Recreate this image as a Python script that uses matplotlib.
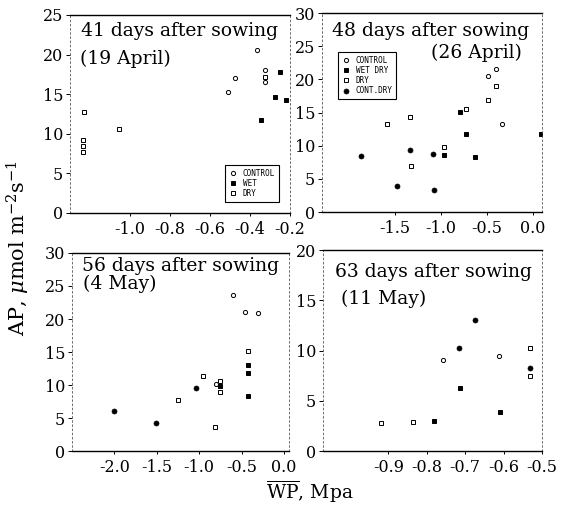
import matplotlib
matplotlib.use('Agg')
import matplotlib.pyplot as plt

plt.rcParams['font.family'] = ['DejaVu Serif']
plt.rcParams['mathtext.fontset'] = 'dejavuserif'

# 41 days after sowing (19 April)
ctrl1_x = [-0.367, -0.475, -0.509, -0.325, -0.325]
ctrl1_y = [20.6, 17.0, 15.3, 18.1, 16.5]
wet1_x = [-0.25, -0.275, -0.22, -0.345]
wet1_y = [17.8, 14.7, 14.3, 11.8]
dry1_x = [-1.23, -1.054, -1.235, -1.235, -1.235, -0.325]
dry1_y = [12.7, 10.6, 9.2, 8.4, 7.7, 17.2]

# 48 days after sowing (26 April)
ctrl2_x = [-0.336, -0.486, -0.398]
ctrl2_y = [13.3, 20.5, 21.6]
wet2_x = [-0.965, -0.799, -0.725, -0.627, 0.087]
wet2_y = [8.55, 15.1, 11.7, 8.3, 11.8]
dry2_x = [-1.587, -1.336, -1.325, -0.965, -0.725, -0.398, -0.486]
dry2_y = [13.2, 14.3, 7.0, 9.8, 15.6, 19.0, 16.9]
cd2_x = [-1.876, -1.336, -1.085, -1.483, -1.082]
cd2_y = [8.4, 9.4, 8.8, 3.9, 3.3]

# 56 days after sowing (4 May)
ctrl3_x = [-0.802, -0.599, -0.461, -0.305]
ctrl3_y = [10.2, 23.7, 21.1, 20.9]
wet3_x = [-0.755, -0.422, -0.422, -0.422]
wet3_y = [9.8, 13.0, 11.8, 8.4]
dry3_x = [-1.246, -0.959, -0.811, -0.755, -0.755, -0.422]
dry3_y = [7.8, 11.3, 3.7, 10.6, 9.0, 15.1]
cd3_x = [-2.00, -1.508, -1.038]
cd3_y = [6.1, 4.3, 9.5]

# 63 days after sowing (11 May)
ctrl4_x = [-0.758, -0.611]
ctrl4_y = [9.1, 9.45]
wet4_x = [-0.713, -0.609, -0.781]
wet4_y = [6.3, 3.9, 3.0]
dry4_x = [-0.532, -0.532, -0.837, -0.918]
dry4_y = [10.3, 7.5, 2.9, 2.8]
cd4_x = [-0.674, -0.715, -0.532]
cd4_y = [13.0, 10.3, 8.3]

xticks1 = [-1.0, -0.8, -0.6, -0.4, -0.2]
xticks2 = [-1.5, -1.0, -0.5, 0.0]
xticks3 = [-2.0, -1.5, -1.0, -0.5, 0.0]
xticks4 = [-0.9, -0.8, -0.7, -0.6, -0.5]

fig = plt.figure(figsize=(5.72, 5.11), dpi=100)
ax1 = fig.add_axes([0.1224, 0.5832, 0.3846, 0.3875])
ax2 = fig.add_axes([0.5629, 0.5851, 0.3846, 0.3894])
ax3 = fig.add_axes([0.1259, 0.1174, 0.3794, 0.3875])
ax4 = fig.add_axes([0.5647, 0.1174, 0.3829, 0.3933])

ctrl_kw = dict(ls='none', marker='o', ms=3.0, mfc='white', mec='black', mew=0.7)
wet_kw = dict(ls='none', marker='s', ms=3.2, mfc='black', mec='black', mew=0.7)
dry_kw = dict(ls='none', marker='s', ms=3.0, mfc='white', mec='black', mew=0.7)
cd_kw = dict(ls='none', marker='o', ms=3.6, mfc='black', mec='black', mew=0.5)

ax1.plot(ctrl1_x, ctrl1_y, label='CONTROL', **ctrl_kw)
ax1.plot(wet1_x, wet1_y, label='WET', **wet_kw)
ax1.plot(dry1_x, dry1_y, label='DRY', **dry_kw)

ax2.plot(ctrl2_x, ctrl2_y, label='CONTROL', **ctrl_kw)
ax2.plot(wet2_x, wet2_y, label='WET DRY', **wet_kw)
ax2.plot(dry2_x, dry2_y, label='DRY', **dry_kw)
ax2.plot(cd2_x, cd2_y, label='CONT.DRY', **cd_kw)

ax3.plot(ctrl3_x, ctrl3_y, **ctrl_kw)
ax3.plot(wet3_x, wet3_y, **wet_kw)
ax3.plot(dry3_x, dry3_y, **dry_kw)
ax3.plot(cd3_x, cd3_y, **cd_kw)

ax4.plot(ctrl4_x, ctrl4_y, **ctrl_kw)
ax4.plot(wet4_x, wet4_y, **wet_kw)
ax4.plot(dry4_x, dry4_y, **dry_kw)
ax4.plot(cd4_x, cd4_y, **cd_kw)

ax1.set_xlim(-1.3, -0.2); ax1.set_ylim(0, 25)
ax2.set_xlim(-2.3, 0.1); ax2.set_ylim(0, 30)
ax3.set_xlim(-2.5, 0.06); ax3.set_ylim(0, 30)
ax4.set_xlim(-1.07, -0.5); ax4.set_ylim(0, 20)

ax1.set_xticks(xticks1); ax1.set_xticklabels(['%.1f' % v for v in xticks1])
ax2.set_xticks(xticks2); ax2.set_xticklabels(['%.1f' % v for v in xticks2])
ax3.set_xticks(xticks3); ax3.set_xticklabels(['%.1f' % v for v in xticks3])
ax4.set_xticks(xticks4); ax4.set_xticklabels(['%.1f' % v for v in xticks4])
ax1.set_yticks(range(0, 26, 5))
ax2.set_yticks(range(0, 31, 5))
ax3.set_yticks(range(0, 31, 5))
ax4.set_yticks(range(0, 21, 5))

for ax in [ax1, ax2, ax3, ax4]:
    ax.tick_params(labelsize=11.5, direction='out', length=3, width=0.7, pad=2)
    ax.tick_params(axis='x', length=2, pad=4)
    ax.spines['top'].set_linewidth(1.0)
    ax.spines['bottom'].set_linewidth(1.0)
    for s in ['left', 'right']:
        ax.spines[s].set_linestyle((0, (2, 3)))
        ax.spines[s].set_linewidth(0.6)
        ax.spines[s].set_color('#555555')

ax1.text(0.05, 0.966, '41 days after sowing', transform=ax1.transAxes, fontsize=13.5, va='top')
ax1.text(0.045, 0.823, '(19 April)', transform=ax1.transAxes, fontsize=13.5, va='top')
ax2.text(0.044, 0.956, '48 days after sowing', transform=ax2.transAxes, fontsize=13.5, va='top')
ax2.text(0.908, 0.848, '(26 April)', transform=ax2.transAxes, fontsize=13.5, va='top', ha='right')
ax3.text(0.045, 0.981, '56 days after sowing', transform=ax3.transAxes, fontsize=13.5, va='top')
ax3.text(0.052, 0.890, '(4 May)', transform=ax3.transAxes, fontsize=13.5, va='top')
ax4.text(0.054, 0.936, '63 days after sowing', transform=ax4.transAxes, fontsize=13.5, va='top')
ax4.text(0.084, 0.80, '(11 May)', transform=ax4.transAxes, fontsize=13.5, va='top')

leg_kw = dict(prop={'family': 'DejaVu Sans Mono', 'size': 5.5}, fancybox=False,
              edgecolor='black', framealpha=1, handlelength=1.0, handletextpad=0.8,
              labelspacing=0.15, borderpad=0.5, borderaxespad=0)
l1 = ax1.legend(loc='lower right', bbox_to_anchor=(0.95, 0.056), **leg_kw)
l1.get_frame().set_linewidth(0.8)
l2 = ax2.legend(loc='upper left', bbox_to_anchor=(0.073, 0.804), **leg_kw)
l2.get_frame().set_linewidth(0.8)

fig.text(18 / 572, 1 - 248 / 511, r'AP, $\mu$mol m$^{-2}$s$^{-1}$', rotation=90,
         ha='center', va='center', fontsize=15)
fig.text(310 / 572, 1 - 492 / 511, r'$\overline{\mathrm{WP}}$, Mpa', ha='center',
         va='center', fontsize=13.5)

fig.savefig('out.png', dpi=100)
